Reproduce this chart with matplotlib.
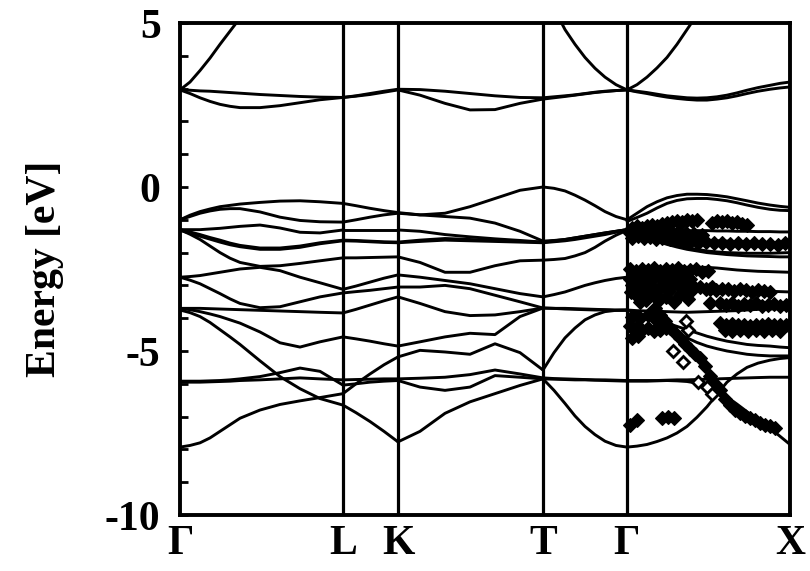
import matplotlib
matplotlib.use("Agg")
import matplotlib.pyplot as plt

# ---------------- data ----------------
sym_labels = ["Γ", "L", "K", "T", "Γ", "X"]
sym_k = [0, 163, 218, 363, 447, 610]

# Γ -> L
k_GL = [0, 10, 20, 30, 40, 50, 60, 80, 100, 120, 140, 163]
bands_GL = [
    [2.96, 2.95, 2.93, 2.92, 2.90, 2.88, 2.86, 2.82, 2.79, 2.76, 2.74, 2.73],
    [2.96, 2.85, 2.72, 2.61, 2.52, 2.46, 2.42, 2.42, 2.48, 2.57, 2.66, 2.73],
    [2.96, 3.20, 3.55, 3.93, 4.35, 4.75, 5.15, 6.00, 7.0, 8.0, 9.0, 10.0],
    [-1.00, -0.86, -0.75, -0.67, -0.60, -0.56, -0.52, -0.47, -0.43, -0.42, -0.45, -0.50],
    [-1.00, -0.90, -0.80, -0.73, -0.68, -0.66, -0.66, -0.76, -0.92, -1.02, -1.06, -1.07],
    [-1.30, -1.30, -1.30, -1.28, -1.26, -1.23, -1.20, -1.16, -1.25, -1.38, -1.40, -1.31],
    [-1.30, -1.37, -1.45, -1.54, -1.62, -1.71, -1.78, -1.86, -1.86, -1.80, -1.70, -1.62],
    [-1.32, -1.41, -1.50, -1.59, -1.68, -1.76, -1.82, -1.90, -1.90, -1.84, -1.73, -1.64],
    [-1.30, -1.44, -1.60, -1.80, -2.00, -2.17, -2.30, -2.42, -2.40, -2.33, -2.25, -2.16],
    [-2.75, -2.73, -2.70, -2.65, -2.60, -2.55, -2.50, -2.45, -2.55, -2.75, -2.92, -3.12],
    [-2.75, -2.84, -2.95, -3.10, -3.25, -3.41, -3.55, -3.68, -3.65, -3.50, -3.35, -3.23],
    [-3.70, -3.70, -3.70, -3.71, -3.72, -3.73, -3.74, -3.76, -3.78, -3.80, -3.82, -3.84],
    [-3.70, -3.74, -3.80, -3.87, -3.95, -4.05, -4.15, -4.42, -4.75, -4.88, -4.72, -4.57],
    [-5.92, -5.92, -5.92, -5.91, -5.90, -5.88, -5.85, -5.78, -5.66, -5.52, -5.62, -6.04],
    [-3.75, -3.83, -3.95, -4.13, -4.35, -4.57, -4.80, -5.30, -5.78, -6.15, -6.45, -6.65],
    [-5.95, -5.95, -5.95, -5.94, -5.93, -5.92, -5.90, -5.88, -5.85, -5.82, -5.85, -5.88],
    [-7.93, -7.88, -7.80, -7.65, -7.45, -7.25, -7.05, -6.80, -6.63, -6.52, -6.42, -6.30],
]

# L -> K
k_LK = [163, 176, 190, 204, 218]
bands_LK = [
    [2.73, 2.78, 2.85, 2.92, 2.98],
    [2.73, 2.77, 2.82, 2.89, 2.96],
    [-0.50, -0.57, -0.65, -0.72, -0.78],
    [-1.07, -1.00, -0.92, -0.85, -0.80],
    [-1.31, -1.31, -1.31, -1.31, -1.31],
    [-1.62, -1.63, -1.65, -1.67, -1.68],
    [-1.64, -1.65, -1.67, -1.69, -1.70],
    [-2.16, -2.16, -2.15, -2.14, -2.13],
    [-3.12, -3.02, -2.90, -2.78, -2.68],
    [-3.23, -3.19, -3.15, -3.10, -3.05],
    [-3.84, -3.73, -3.60, -3.47, -3.35],
    [-4.57, -4.63, -4.70, -4.78, -4.85],
    [-6.04, -6.00, -5.95, -5.92, -5.90],
    [-6.65, -6.88, -7.15, -7.45, -7.77],
    [-5.88, -5.87, -5.86, -5.85, -5.85],
    [-6.30, -6.00, -5.70, -5.42, -5.18],
]

# K -> T
k_KT = [218, 240, 265, 290, 315, 340, 363]
bands_KT = [
    [2.98, 2.97, 2.92, 2.85, 2.78, 2.73, 2.72],
    [2.96, 2.80, 2.55, 2.35, 2.36, 2.55, 2.68],
    [-0.78, -0.85, -0.80, -0.60, -0.35, -0.10, 0.00],
    [-0.80, -0.85, -0.90, -0.95, -1.10, -1.35, -1.65],
    [-1.31, -1.35, -1.45, -1.52, -1.58, -1.63, -1.68],
    [-1.68, -1.62, -1.57, -1.60, -1.63, -1.66, -1.68],
    [-1.70, -1.66, -1.62, -1.64, -1.66, -1.68, -1.70],
    [-2.13, -2.30, -2.60, -2.60, -2.40, -2.25, -2.23],
    [-2.68, -2.75, -2.85, -2.95, -3.10, -3.25, -3.35],
    [-3.05, -3.05, -3.00, -3.10, -3.30, -3.50, -3.69],
    [-3.35, -3.55, -3.80, -3.92, -3.90, -3.80, -3.69],
    [-4.85, -4.72, -4.57, -4.46, -4.50, -3.95, -3.69],
    [-5.18, -4.98, -5.03, -5.10, -4.78, -5.05, -5.58],
    [-5.85, -5.83, -5.80, -5.72, -5.58, -5.70, -5.82],
    [-5.90, -6.10, -6.20, -6.10, -5.75, -5.80, -5.85],
    [-7.77, -7.45, -6.90, -6.55, -6.30, -6.05, -5.85],
]

# T -> Γ
k_TG = [363, 374, 385, 395, 405, 415, 425, 436, 447]
bands_TG = [
    [2.72, 2.75, 2.78, 2.81, 2.85, 2.89, 2.92, 2.94, 2.96],
    [2.68, 2.72, 2.76, 2.80, 2.84, 2.88, 2.91, 2.94, 2.96],
    [6.20, 5.45, 4.80, 4.35, 3.95, 3.62, 3.35, 3.12, 2.96],
    [0.00, -0.04, -0.12, -0.25, -0.40, -0.57, -0.75, -0.90, -1.00],
    [-1.65, -1.63, -1.60, -1.55, -1.50, -1.45, -1.40, -1.35, -1.30],
    [-1.68, -1.65, -1.62, -1.57, -1.52, -1.47, -1.42, -1.36, -1.30],
    [-1.68, -1.64, -1.60, -1.55, -1.50, -1.45, -1.40, -1.35, -1.30],
    [-1.70, -1.67, -1.64, -1.60, -1.55, -1.50, -1.45, -1.38, -1.32],
    [-2.23, -2.21, -2.18, -2.10, -2.00, -1.84, -1.65, -1.47, -1.32],
    [-3.35, -3.28, -3.20, -3.10, -3.00, -2.92, -2.85, -2.79, -2.75],
    [-3.69, -3.70, -3.70, -3.71, -3.72, -3.73, -3.74, -3.75, -3.75],
    [-3.69, -3.70, -3.72, -3.73, -3.74, -3.75, -3.75, -3.76, -3.76],
    [-5.58, -5.05, -4.60, -4.30, -4.05, -3.90, -3.80, -3.76, -3.75],
    [-5.82, -5.84, -5.85, -5.86, -5.87, -5.88, -5.88, -5.89, -5.90],
    [-5.85, -5.86, -5.87, -5.88, -5.88, -5.89, -5.90, -5.91, -5.92],
    [-5.85, -6.20, -6.60, -6.98, -7.30, -7.55, -7.75, -7.88, -7.93],
]

# Γ -> X
k_GX = [447, 457, 467, 477, 487, 497, 507, 517, 527, 537, 547, 557, 567, 578, 590, 600, 610]
bands_GX = [
    [2.96, 2.92, 2.88, 2.83, 2.78, 2.75, 2.72, 2.71, 2.72, 2.75, 2.80, 2.87, 2.95, 3.03, 3.10, 3.16, 3.20],
    [2.96, 2.90, 2.85, 2.79, 2.74, 2.70, 2.67, 2.65, 2.65, 2.68, 2.72, 2.78, 2.85, 2.92, 2.98, 3.02, 3.05],
    [2.96, 3.12, 3.35, 3.63, 3.95, 4.35, 4.80, 5.25, 5.70, 6.15, 6.60, 7.0, 7.5, 8.0, 8.5, 9.0, 9.5],
    [-1.00, -0.80, -0.60, -0.45, -0.33, -0.26, -0.22, -0.22, -0.23, -0.26, -0.30, -0.36, -0.42, -0.49, -0.55, -0.59, -0.62],
    [-1.05, -0.93, -0.80, -0.64, -0.50, -0.41, -0.36, -0.35, -0.35, -0.38, -0.42, -0.48, -0.55, -0.62, -0.68, -0.71, -0.72],
    [-1.30, -1.30, -1.30, -1.31, -1.32, -1.32, -1.33, -1.33, -1.33, -1.34, -1.34, -1.35, -1.35, -1.36, -1.36, -1.37, -1.37],
    [-1.30, -1.34, -1.38, -1.43, -1.48, -1.52, -1.56, -1.59, -1.62, -1.64, -1.65, -1.67, -1.68, -1.69, -1.70, -1.70, -1.70],
    [-1.32, -1.41, -1.50, -1.60, -1.70, -1.78, -1.85, -1.90, -1.95, -1.98, -2.00, -2.01, -2.02, -2.02, -2.02, -2.01, -2.00],
    [-1.32, -1.44, -1.55, -1.65, -1.75, -1.83, -1.90, -1.95, -2.00, -2.03, -2.06, -2.08, -2.10, -2.11, -2.12, -2.13, -2.13],
    [-2.75, -2.67, -2.60, -2.55, -2.50, -2.47, -2.45, -2.45, -2.45, -2.47, -2.50, -2.53, -2.55, -2.57, -2.58, -2.59, -2.60],
    [-2.75, -2.77, -2.80, -2.85, -2.90, -2.95, -3.00, -3.03, -3.05, -3.08, -3.10, -3.13, -3.15, -3.17, -3.18, -3.19, -3.20],
    [-3.75, -3.77, -3.78, -3.79, -3.80, -3.81, -3.82, -3.81, -3.80, -3.79, -3.78, -3.77, -3.75, -3.73, -3.72, -3.71, -3.70],
    [-3.75, -3.85, -3.95, -4.05, -4.15, -4.25, -4.35, -4.45, -4.55, -4.63, -4.70, -4.75, -4.80, -4.83, -4.85, -4.88, -4.90],
    [-3.75, -3.84, -3.95, -4.09, -4.25, -4.42, -4.60, -4.74, -4.85, -4.93, -5.00, -5.05, -5.10, -5.13, -5.15, -5.15, -5.15],
    [-5.90, -5.90, -5.90, -5.90, -5.89, -5.88, -5.88, -5.87, -5.86, -5.85, -5.84, -5.83, -5.82, -5.81, -5.80, -5.80, -5.80],
    [-5.92, -5.92, -5.92, -5.91, -5.90, -5.91, -5.93, -5.98, -6.05, -6.20, -6.40, -6.62, -6.85, -7.10, -7.35, -7.60, -7.85],
    [-7.93, -7.90, -7.85, -7.76, -7.65, -7.50, -7.30, -7.02, -6.70, -6.32, -5.95, -5.70, -5.50, -5.37, -5.28, -5.23, -5.20],
]

segments = [(k_GL, bands_GL), (k_LK, bands_LK), (k_KT, bands_KT),
            (k_TG, bands_TG), (k_GX, bands_GX)]

# experimental points (filled diamonds), path coordinate / energy
exp_k = [
    452, 457, 462, 467, 472, 477, 482, 487, 492, 497, 502, 507, 512, 517,
    532, 537, 542, 547, 552, 557, 562, 567,
    450, 456, 462, 468, 475, 482, 490, 498, 506, 514, 522,
    452, 458, 464, 470, 476, 482, 488, 494, 500, 506,
    490, 496, 502, 510, 518, 526, 534, 542, 550, 558, 566, 574, 582, 590, 598, 605,
    450, 456, 462, 468, 474, 480, 486, 492, 498, 504, 510, 516, 522, 528,
    450, 456, 462, 468, 474, 480, 486, 492, 498, 504, 510,
    452, 458, 466, 474, 482, 490, 498, 506, 514, 456, 470, 486, 500, 460, 478, 494,
    451, 463, 476, 489, 502, 512, 466, 480, 508,
    530, 536, 542, 548, 554, 560, 566, 572, 578, 584, 590,
    540, 546, 552, 558, 564, 570, 576, 582, 588, 594, 600, 606,
    540, 546, 552, 558, 564, 570, 576, 582, 588, 594, 600, 606,
    545, 552, 560, 568, 576, 584, 592, 600,
    520, 526, 532, 530,
    450, 456, 462, 468, 474, 480, 486, 452, 460, 468, 476, 452, 458,
    475, 480, 485, 490, 495, 500, 505, 510, 515, 520, 525, 530, 535, 540,
    545, 550, 555, 560, 565, 570, 575, 580, 585, 590, 595,
    450, 457, 482, 488, 494,
]
exp_E = [
    -1.25, -1.20, -1.24, -1.20, -1.15, -1.18, -1.12, -1.10, -1.08, -1.05, -1.08, -1.02, -1.05, -1.00,
    -1.10, -1.05, -1.08, -1.05, -1.10, -1.08, -1.12, -1.15,
    -1.40, -1.35, -1.40, -1.35, -1.38, -1.33, -1.35, -1.38, -1.40, -1.42, -1.45,
    -1.55, -1.50, -1.55, -1.52, -1.58, -1.55, -1.52, -1.58, -1.60, -1.62,
    -1.60, -1.62, -1.65, -1.68, -1.70, -1.68, -1.72, -1.70, -1.73, -1.70, -1.75, -1.72, -1.75, -1.73, -1.76, -1.72,
    -2.50, -2.55, -2.50, -2.52, -2.48, -2.55, -2.50, -2.53, -2.48, -2.55, -2.52, -2.50, -2.60, -2.55,
    -2.80, -2.75, -2.80, -2.72, -2.78, -2.75, -2.80, -2.75, -2.72, -2.78, -2.80,
    -3.00, -3.05, -2.95, -3.10, -3.00, -3.05, -2.98, -3.10, -3.05, -3.30, -3.25, -3.35, -3.30, -3.50, -3.45, -3.50,
    -3.20, -3.15, -3.20, -3.18, -3.22, -3.15, -3.45, -3.40, -3.40,
    -3.10, -3.15, -3.10, -3.12, -3.18, -3.12, -3.15, -3.20, -3.15, -3.18, -3.20,
    -3.55, -3.60, -3.55, -3.62, -3.58, -3.60, -3.55, -3.62, -3.60, -3.58, -3.62, -3.60,
    -4.15, -4.20, -4.18, -4.22, -4.20, -4.25, -4.20, -4.22, -4.18, -4.20, -4.22, -4.20,
    -4.35, -4.38, -4.35, -4.40, -4.36, -4.38, -4.35, -4.38,
    -3.05, -3.10, -3.05, -3.55,
    -4.25, -4.30, -4.35, -4.30, -4.40, -4.35, -4.30, -3.95, -4.00, -3.90, -4.05, -4.60, -4.55,
    -3.70, -3.90, -4.10, -4.30, -4.45, -4.60, -4.78, -4.95, -5.10, -5.20, -5.45, -5.75, -6.00, -6.20,
    -6.45, -6.65, -6.80, -6.90, -6.98, -7.05, -7.10, -7.18, -7.25, -7.30, -7.35,
    -7.25, -7.10, -7.05, -7.00, -7.05,
]

# open diamonds
open_k = [493, 503, 508, 518, 527, 532, 506]
open_E = [-5.00, -5.33, -4.36, -5.95, -6.10, -6.30, -4.10]

# ---------------- figure ----------------
fig = plt.figure(figsize=(8.10, 5.71), dpi=100)
ax = fig.add_axes([180 / 810, 1 - 515 / 571, 610 / 810, 492 / 571])

for ks, bands in segments:
    for b in bands:
        ax.plot(ks, b, color="black", lw=2.1, solid_capstyle="round",
                solid_joinstyle="round", zorder=2)

for k in sym_k[1:-1]:
    ax.axvline(k, color="black", lw=2.3, zorder=2.5)

ax.plot(exp_k, exp_E, linestyle="none", marker="D", ms=6.8, mfc="black",
        mec="black", mew=0.8, zorder=3)
ax.plot(open_k, open_E, linestyle="none", marker="D", ms=6.4, mfc="white",
        mec="black", mew=2.0, zorder=3)

ax.set_xlim(sym_k[0], sym_k[-1])
ax.set_ylim(-10, 5)

font = {"family": "Liberation Serif", "weight": "bold", "size": 30}
ax.set_yticks(list(range(-10, 6)))
ax.set_yticklabels([str(v) if v % 5 == 0 else "" for v in range(-10, 6)],
                   fontdict=font)
ax.tick_params(axis="y", direction="in", length=6, width=2, pad=14)
ax.set_xticks(sym_k)
ax.set_xticklabels(sym_labels, fontdict=font)
ax.tick_params(axis="x", length=0, pad=7)

for s in ax.spines.values():
    s.set_linewidth(2.8)

ax.set_ylabel("Energy [eV]", fontdict=font)
ax.yaxis.set_label_coords(-0.19, 0.5)

fig.savefig("out.png", dpi=100)
